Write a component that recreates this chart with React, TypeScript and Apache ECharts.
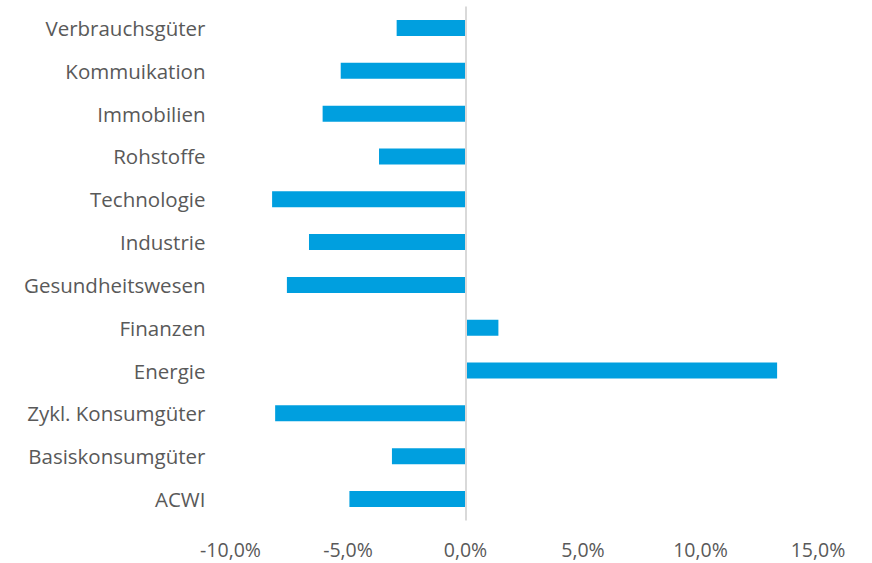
import React, { useEffect, useRef } from "react";
import * as echarts from "echarts";

const categories = [
  "ACWI",
  "Basiskonsumgüter",
  "Zykl. Konsumgüter",
  "Energie",
  "Finanzen",
  "Gesundheitswesen",
  "Industrie",
  "Technologie",
  "Rohstoffe",
  "Immobilien",
  "Kommuikation",
  "Verbrauchsgüter",
];
const values = [-4.94, -3.13, -8.1, 13.26, 1.4, -7.6, -6.66, -8.23, -3.68, -6.08, -5.31, -2.93];
const xTicks = [-10, -5, 0, 5, 10, 15];

export default function App() {
  const ref = useRef<HTMLDivElement>(null);
  useEffect(() => {
    if (!ref.current) return;
    const chart = echarts.init(ref.current, undefined, { renderer: "svg" });
    const font = "'Open Sans', sans-serif";
    chart.setOption({
      animation: false,
      grid: { left: 230.5, right: 54, top: 6.6, bottom: 42.6, containLabel: false },
      xAxis: {
        type: "value",
        min: xTicks[0],
        max: xTicks[xTicks.length - 1],
        interval: 5,
        axisLine: { show: false },
        axisTick: { show: false },
        splitLine: { show: false },
        axisLabel: {
          color: "#595959",
          fontSize: 19.5,
          lineHeight: 20,
          fontFamily: font,
          margin: 19,
          formatter: (v: number) => v.toFixed(1).replace(".", ",") + "%",
        },
      },
      yAxis: {
        type: "category",
        data: categories,
        axisLine: { show: false, onZero: false },
        axisTick: { show: false },
        axisLabel: {
          color: "#595959",
          fontSize: 20.5,
          fontFamily: font,
          margin: 25,
        },
      },
      series: [
        {
          type: "bar",
          data: values,
          barWidth: 16,
          itemStyle: { color: "#009FDF" },
          markLine: {
            silent: true,
            symbol: "none",
            label: { show: false },
            lineStyle: { color: "#D9D9D9", width: 2, type: "solid" },
            data: [{ xAxis: 0 }],
          },
        },
      ],
    });
    return () => chart.dispose();
  }, []);
  return (
    <div
      ref={ref}
      style={{ position: "absolute", left: 0, top: 0, width: 872, height: 563 }}
    />
  );
}
